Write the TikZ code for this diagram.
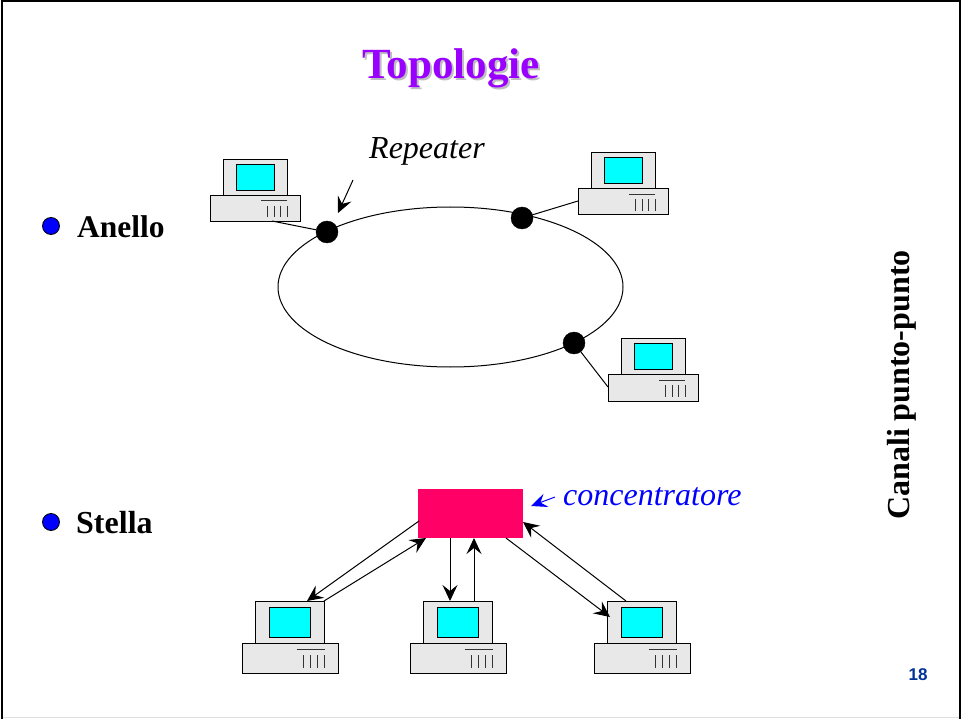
\documentclass[tikz,border=0pt]{standalone}
\usepackage{fontspec}
\setmainfont{Liberation Serif}
\newfontfamily\arialfam{Liberation Sans}
\usetikzlibrary{arrows.meta,shapes.geometric}
\definecolor{titlepurple}{HTML}{9900FF}
\definecolor{hubpink}{HTML}{FF0066}
\definecolor{pcgray}{HTML}{E8E8E8}
\definecolor{pagenum}{HTML}{003399}
\definecolor{bulletblue}{HTML}{0000FF}
\definecolor{screencyan}{HTML}{00FFFF}
\tikzset{
  pcpart/.style={draw=black,fill=pcgray,line width=1pt},
  pcscreen/.style={draw=black,fill=screencyan,line width=1pt},
  pcline/.style={draw=black!80,line width=1pt},
  pcbox/.style={inner sep=0pt,outer sep=0pt},
  wire/.style={draw=black,line width=1pt},
  link/.style={draw=black,line width=1pt,-{Stealth[length=16pt,width=15pt,inset=6pt]}},
  bluelink/.style={draw=bulletblue,line width=1pt,-{Stealth[length=16pt,width=14pt,inset=6pt]}},
  repeaterdot/.style={circle,fill=black,draw=black,minimum size=22pt,inner sep=0pt,outer sep=0pt},
  bullet/.style={circle,fill=bulletblue,draw=black,line width=0.8pt,minimum size=17pt,inner sep=0pt},
  label32/.style={inner sep=0pt,anchor=base west,font=\fontsize{32}{36}\selectfont},
}
\newcommand{\pcunit}[5]{% name, left, top, width, height
  \pgfmathsetmacro{\pcxs}{#4/97}
  \pgfmathsetmacro{\pcys}{#5/72}
  \begin{scope}[shift={(#2,#3)},xscale=\pcxs,yscale=\pcys]
    \draw[pcpart] (14,0) rectangle (83,42);
    \draw[pcscreen] (28,6) rectangle (69,36);
    \draw[pcpart] (0,42) rectangle (97,72);
    \draw[pcline] (55,48) -- (83,48);
    \foreach \vx in {62,69,76,83} \draw[pcline] (\vx,54) -- (\vx,67);
    \node[pcbox,minimum width=#4pt,minimum height=#5pt] (#1) at (48.5,36) {};
  \end{scope}
}
\begin{document}
\begin{tikzpicture}[x=1pt,y=-1pt]
\useasboundingbox (0,0) rectangle (961,719);
% slide frame
\fill[white] (0,0) rectangle (961,719);
\draw[black!12,line width=1.5pt] (2,717.5) -- (959,717.5);
\draw[black,line width=2pt] (2,719) -- (2,1.5) -- (960,1.5) -- (960,719);
% title
\node[inner sep=0pt,anchor=base,font=\fontsize{43}{46}\selectfont\bfseries,text=black!25] at (453,81) {Topologie};
\node[inner sep=0pt,anchor=base,font=\fontsize{43}{46}\selectfont\bfseries,text=titlepurple] (title) at (451,79) {Topologie};
% bullets
\node[bullet] (bulleta) at (51,226) {};
\node[bullet] (bulletb) at (51,522) {};
\node[label32,font=\fontsize{31.5}{36}\selectfont\bfseries] (anello) at (77,238) {Anello};
\node[label32,font=\fontsize{32}{36}\selectfont\bfseries] (stella) at (76,533) {Stella};
% ring
\node[ellipse,draw=black,line width=1pt,minimum width=345pt,minimum height=160pt,inner sep=0pt] (ring) at (450.5,287) {};
% ring computers
\pcunit{pca}{210}{159.5}{90.5}{62}
\pcunit{pcb}{578}{152.5}{90.5}{62.5}
\pcunit{pcc}{608}{338.5}{90.5}{62.5}
\coordinate (wa) at (272,221);
\coordinate (wb) at (578,201);
\coordinate (wc) at (608,387);
\node[repeaterdot] (da) at (327,232) {};
\node[repeaterdot] (db) at (522,218) {};
\node[repeaterdot] (dc) at (574,343) {};
\draw[wire] (wa) -- (da);
\draw[wire] (wb) -- (db);
\draw[wire] (wc) -- (dc);
% repeater label
\node[label32,font=\fontsize{32}{36}\selectfont\itshape] (rep) at (369,158.5) {Repeater};
\coordinate (repfrom) at (353,180);
\coordinate (repto) at (338,213);
\draw[link] (repfrom) -- (repto);
% hub
\node[fill=hubpink,minimum width=105pt,minimum height=49pt,inner sep=0pt] (hub) at (470.5,513.5) {};
\node[label32,font=\fontsize{32}{36}\selectfont\itshape,text=bulletblue] (conc) at (563,505.5) {concentratore};
\coordinate (concfrom) at (555,497);
\coordinate (concto) at (531,506);
\draw[bluelink] (concfrom) -- (concto);
% star computers
\pcunit{pcd}{242}{601}{96.5}{72}
\pcunit{pce}{410}{601}{96.5}{72}
\pcunit{pcf}{594}{601}{96.5}{72}
\coordinate (h1) at (419,521);
\coordinate (p1) at (307,601);
\coordinate (p2) at (324,601);
\coordinate (h2) at (426,538);
\coordinate (h3) at (450,538);
\coordinate (p3) at (450,601);
\coordinate (p4) at (474,601);
\coordinate (h4) at (474,538);
\coordinate (h5) at (506,538);
\coordinate (p5) at (610,617);
\coordinate (p6) at (626,601);
\coordinate (h6) at (523,522);
\draw[link] (h1) -- (p1);
\draw[link] (p2) -- (h2);
\draw[link] (h3) -- (p3);
\draw[link] (p4) -- (h4);
\draw[link] (h5) -- (p5);
\draw[link] (p6) -- (h6);
% side label
\node[inner sep=0pt,anchor=base,rotate=90,font=\fontsize{32}{36}\selectfont\bfseries] (side) at (909.5,385) {Canali punto-punto};
% page number
\node[inner sep=0pt,anchor=base,font=\arialfam\fontsize{17}{20}\selectfont\bfseries,text=pagenum] (num) at (918,680) {18};
\end{tikzpicture}
\end{document}
